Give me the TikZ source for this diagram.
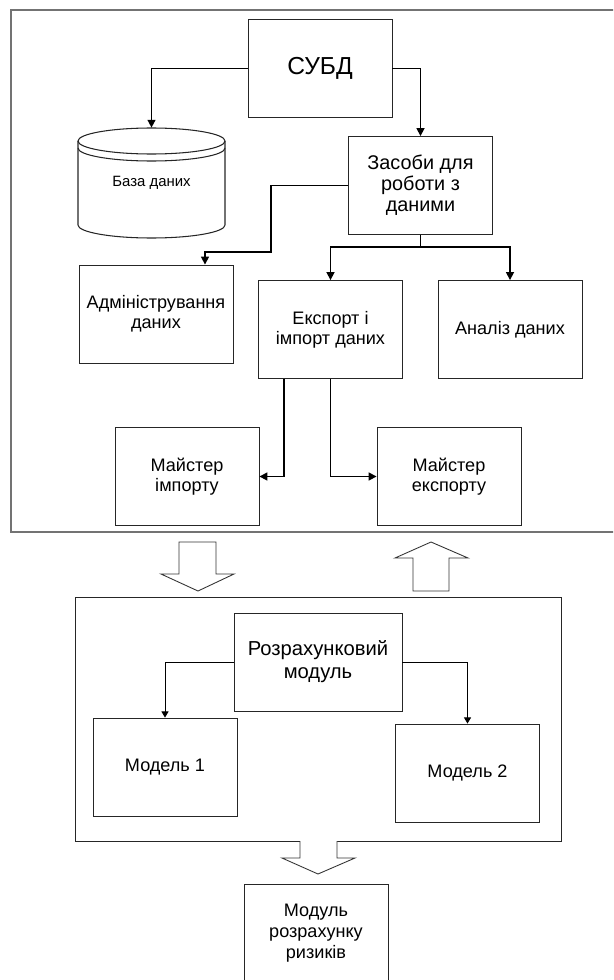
\documentclass[tikz,border=0pt]{standalone}
\usepackage{fontspec}
\setmainfont{Liberation Sans}
\usetikzlibrary{arrows.meta}

\begin{document}
\begin{tikzpicture}[x=0.02cm,y=-0.02cm,
  b/.style={draw=black!85,line width=0.5pt,minimum width=2.88cm,minimum height=1.96cm,
            align=center,inner sep=1pt,font=\fontsize{10.3}{11.3}\selectfont},
  a/.style={-{Triangle[length=4.5pt,width=4.5pt]},line width=0.9pt},
  ak/.style={-{Triangle[length=3.5pt,width=4pt]},line width=0.55pt},
  bl/.style={draw=black!80,line width=0.5pt,fill=white}
]
\useasboundingbox (0,0) rectangle (613,980);
\clip (0,0) rectangle (613,980);
\draw[black!55,line width=1.2pt] (11,10) rectangle (640,532);
\draw[black!85,line width=0.6pt,fill=white] (151.5,141) ellipse[x radius=73.5,y radius=13];
\draw[black!85,line width=0.6pt] (78,141) -- (78,225) arc[start angle=180,end angle=0,x radius=73.5,y radius=13] -- (225,141);
\draw[black!85,line width=0.6pt] (78,148) arc[start angle=180,end angle=0,x radius=73.5,y radius=13];
\node[b,font=\fontsize{14}{16}\selectfont] (subd) at (320,68.5) {СУБД};
\node[minimum width=2.94cm,minimum height=2.2cm,font=\fontsize{8.5}{10}\selectfont] (db) at (151.5,183) {База даних};
\node[b,font=\fontsize{11.3}{12}\selectfont] (zasoby) at (420.5,185.5) {Засоби для\\роботи з\\даними};
\node[b,minimum width=3.08cm] (admin) at (156,314) {Адміністрування\\даних};
\node[b] (eksport) at (330.5,329.5) {Експорт і\\імпорт даних};
\node[b] (analiz) at (510,329.5) {Аналіз даних};
\node[b] (mimport) at (187,476.5) {Майстер\\імпорту};
\node[b] (meksport) at (449,476.5) {Майстер\\експорту};
\coordinate (split) at (420.5,247);
\draw[a] (subd.west) -| (db.north);
\draw[a] (subd.east) -| (zasoby.north);
\draw[a] (zasoby.west) -| (271,252) -| ([xshift=0.98cm]admin.north);
\draw[line width=0.9pt] (zasoby.south) -- (split);
\draw[a] (split) -| (eksport.north);
\draw[a] (split) -| (analiz.north);
\draw[a] ([xshift=-0.93cm]eksport.south) |- (mimport.east);
\draw[a] (eksport.south) |- (meksport.west);
\draw[bl] (179,542) -- (216,542) -- (216,574) -- (234,574) -- (198,591) -- (161,574) -- (179,574) -- cycle;
\draw[bl] (413,591) -- (449,591) -- (449,558) -- (468,558) -- (431,542) -- (395,558) -- (413,558) -- cycle;
\draw[black!85,line width=0.5pt] (300,841) -- (75,841) -- (75,597) -- (561,597) -- (561,841) -- (337,841);
\draw[bl] (300,841) -- (300,858) -- (282,858) -- (318,874) -- (355,858) -- (337,858) -- (337,841);
\node[b,minimum width=3.36cm,font=\fontsize{11.5}{13}\selectfont] (rozr) at (318,662) {Розрахунковий\\модуль};
\node[b] (model1) at (165,767) {Модель 1};
\node[b] (model2) at (467.5,773) {Модель 2};
\node[b,font=\fontsize{10.3}{11.8}\selectfont] (rizyk) at (316,933) {Модуль\\розрахунку\\ризиків};
\draw[ak] (rozr.west) -| (model1.north);
\draw[ak] (rozr.east) -| (model2.north);
\end{tikzpicture}
\end{document}
